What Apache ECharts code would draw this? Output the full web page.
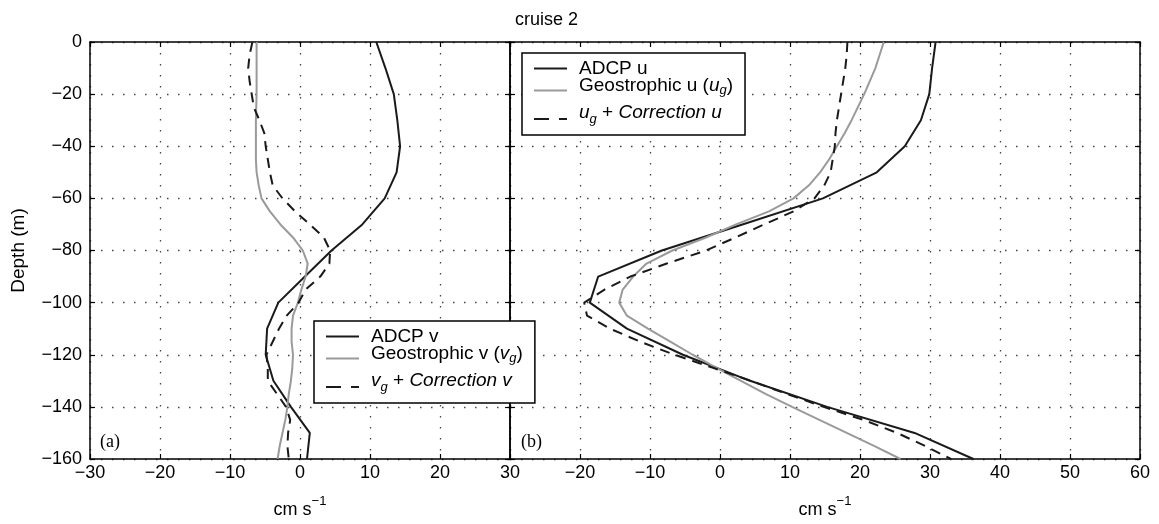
<!DOCTYPE html>
<html>
<head>
<meta charset="utf-8">
<script src="https://cdn.jsdelivr.net/npm/echarts@6/dist/echarts.min.js"></script>
<style>
  html, body { margin: 0; padding: 0; background: #fff; }
  #chart { width: 1159px; height: 524px; }
</style>
</head>
<body>
<div id="chart"></div>
<script>
// depth levels (m)
var depth10 = [0, -10, -20, -30, -40, -50, -60, -70, -80, -90, -100, -110, -120, -130, -140, -150, -160];
var depth5 = [0, -5, -10, -15, -20, -25, -30, -35, -40, -45, -50, -55, -60, -65, -70, -75, -80,
  -85, -90, -95, -100, -105, -110, -115, -120, -125, -130, -135, -140, -145, -150, -155, -160];

// panel (a): v component, cm/s
var adcpV = [10.9, 12.2, 13.4, 13.9, 14.3, 13.8, 12.1, 8.9, 4.5, 0.7, -3.1, -4.7, -4.9, -3.8, -1.3, 1.4, 1.0];
var geoV = [-6.2, -6.2, -6.2, -6.2, -6.2, -6.25, -6.3, -6.3, -6.3, -6.3, -6.2, -5.9, -5.5, -4.3, -2.8, -1.0, 0.4,
  1.1, 0.8, 0.2, -0.3, -1.0, -1.2, -1.2, -1.0, -1.1, -1.3, -1.6, -1.8, -2.1, -2.5, -2.9, -3.2];
var corrV = [-6.8, -7.2, -7.4, -7.2, -6.9, -6.6, -5.8, -5.1, -4.9, -4.6, -4.3, -3.9, -2.5, -0.7, 1.4, 3.4, 4.3,
  4.2, 2.9, 0.8, -0.2, -1.9, -3.0, -3.9, -4.8, -4.6, -4.6, -3.3, -2.0, -1.4, -1.7, -1.8, -1.6];

// panel (b): u component, cm/s
var adcpU = [30.8, 30.3, 29.9, 28.7, 26.4, 22.4, 14.7, 3.2, -8.3, -17.4, -18.6, -13.3, -5.3, 4.3, 15.3, 27.8, 36.2];
var geoU = [23.4, 22.8, 22.2, 21.4, 20.6, 19.7, 18.8, 17.8, 16.7, 15.6, 14.3, 12.7, 10.5, 7.0, 2.3, -2.0, -6.8,
  -10.5, -12.4, -13.9, -14.4, -13.3, -10.3, -7.1, -3.9, -0.5, 3.0, 6.5, 10.3, 14.2, 18.1, 22.0, 25.8];
var corrU = [18.2, 18.1, 17.9, 17.6, 17.3, 17.0, 16.7, 16.5, 16.4, 16.1, 15.8, 14.9, 13.5, 10.5, 6.3, 2.2, -2.0,
  -7.6, -12.8, -16.5, -19.4, -19.0, -15.7, -11.4, -6.5, -1.0, 4.4, 9.5, 14.8, 20.5, 25.3, 29.3, 33.0];

var FONT = 'Liberation Sans';

function pairs(vals, depths) {
  return depths.map(function (d, i) { return [vals[i], d]; });
}
function minusFmt(v) {
  return v < 0 ? '\u2212' + Math.abs(v) : String(v);
}

// legend labels with italic / subscript pieces (row styles keep MATLAB-like spacing)
var legendText = {
  'ADCP v': '{a|ADCP v}',
  'Geostrophic v': '{b|Geostrophic v (}{bi|v}{bs|g}{bn|)}',
  'corr v': '{ci|v}{cs|g}{cn| + }{cj|Correction v}',
  'ADCP u': '{a|ADCP u}',
  'Geostrophic u': '{b|Geostrophic u (}{bi|u}{bs|g}{bn|)}',
  'corr u': '{ci|u}{cs|g}{cn| + }{cj|Correction u}'
};
function tok(size, italic, pad) {
  return { fontFamily: FONT, fontSize: size, lineHeight: size < 15 ? 12 : 18, color: '#000',
    fontStyle: italic ? 'italic' : 'normal', padding: pad };
}
var legendRich = {
  a: tok(19, false, [0, 0, 0, 7]),
  b: tok(19, false, [0, 0, 10, 7]),
  bn: tok(19, false, [0, 0, 10, 0]),
  bi: tok(19, true, [0, 0, 10, 0]),
  bs: tok(13, true, [0, 0, 0, 0]),
  ci: tok(19, true, [0, 0, 13, 7]),
  cn: tok(19, false, [0, 0, 13, 0]),
  cj: tok(19, true, [0, 0, 13, 0]),
  cs: tok(13, true, [0, 0, 0, 0])
};

function makeLegend(names, left, top) {
  return {
    data: [
      { name: names[0] },
      { name: names[1] },
      { name: names[2], lineStyle: { type: [15, 10] } }
    ],
    orient: 'vertical',
    left: left,
    top: top,
    backgroundColor: '#fff',
    borderColor: '#000',
    borderWidth: 1.5,
    borderRadius: 0,
    padding: [6, 12, 0, 11],
    itemGap: -2,
    itemWidth: 33,
    itemHeight: 14,
    itemStyle: { opacity: 0 },
    selectedMode: false,
    formatter: function (name) { return legendText[name]; },
    textStyle: { rich: legendRich }
  };
}

var dotted = { color: '#444', width: 1.3, type: [1.5, 9.5] };
var boxLine = { show: true, onZero: false, lineStyle: { color: '#000', width: 1.5 } };
var tickIn = { show: true, inside: true, length: 5, lineStyle: { color: '#000', width: 1.2 } };
var tickLabel = { fontFamily: FONT, fontSize: 18, color: '#000', formatter: minusFmt };
var unitName = '{n|cm s}{sup|\u22121}';
var unitStyle = {
  rich: {
    n: { fontFamily: FONT, fontSize: 18, lineHeight: 18, verticalAlign: 'top', color: '#000', padding: [6, 0, 0, 0] },
    sup: { fontFamily: FONT, fontSize: 13, lineHeight: 13, verticalAlign: 'top', color: '#000' }
  }
};

function xPair(grid, min, max, hideMin) {
  return [
    {
      gridIndex: grid, type: 'value', min: min, max: max, interval: 10, position: 'bottom',
      axisLine: boxLine, axisTick: tickIn,
      axisLabel: Object.assign({ margin: 5, showMinLabel: !hideMin }, tickLabel),
      splitLine: { show: true, lineStyle: dotted },
      name: unitName, nameLocation: 'middle', nameGap: 36, nameTextStyle: unitStyle
    },
    {
      gridIndex: grid, type: 'value', min: min, max: max, interval: 10, position: 'top',
      axisLine: boxLine, axisTick: tickIn, axisLabel: { show: false }, splitLine: { show: false }
    }
  ];
}
function yPair(grid, withLabels) {
  var left = {
    gridIndex: grid, type: 'value', min: -160, max: 0, interval: 20, position: 'left',
    axisLine: boxLine, axisTick: tickIn,
    axisLabel: withLabels ? Object.assign({ margin: 8 }, tickLabel) : { show: false },
    splitLine: { show: true, lineStyle: dotted }
  };
  if (withLabels) {
    left.name = 'Depth (m)';
    left.nameLocation = 'middle';
    left.nameGap = 62;
    left.nameTextStyle = { fontFamily: FONT, fontSize: 19, color: '#000' };
  }
  return [left, {
    gridIndex: grid, type: 'value', min: -160, max: 0, interval: 20, position: 'right',
    axisLine: boxLine, axisTick: tickIn, axisLabel: { show: false }, splitLine: { show: false }
  }];
}

function profile(name, xi, yi, data, color, dash) {
  return {
    name: name, type: 'line', xAxisIndex: xi, yAxisIndex: yi,
    data: data, symbol: 'none', smooth: false, animation: false,
    lineStyle: { color: color, width: 2, type: dash || 'solid' },
    itemStyle: { color: color }
  };
}

var chart = echarts.init(document.getElementById('chart'), null, { renderer: 'canvas' });
chart.setOption({
  animation: false,
  backgroundColor: '#fff',
  title: {
    text: 'cruise 2', left: 510, top: 6,
    textStyle: { fontFamily: FONT, fontSize: 18, fontWeight: 'normal', color: '#000' }
  },
  grid: [
    { left: 90, top: 42, width: 420, height: 420, show: false },
    { left: 510, top: 42, width: 630, height: 420, show: false }
  ],
  xAxis: xPair(0, -30, 30, false).concat(xPair(1, -30, 60, true)),
  yAxis: yPair(0, true).concat(yPair(1, false)),
  legend: [
    makeLegend(['ADCP v', 'Geostrophic v', 'corr v'], 314, 321),
    makeLegend(['ADCP u', 'Geostrophic u', 'corr u'], 522, 53)
  ],
  graphic: [
    { type: 'text', left: 100, top: 433, z: 10, style: { text: '(a)', font: '18px "Liberation Serif"', fill: '#000' } },
    { type: 'text', left: 521, top: 433, z: 10, style: { text: '(b)', font: '18px "Liberation Serif"', fill: '#000' } }
  ],
  series: [
    profile('ADCP v', 0, 0, pairs(adcpV, depth10), '#1a1a1a'),
    profile('Geostrophic v', 0, 0, pairs(geoV, depth5), '#9a9a9a'),
    profile('corr v', 0, 0, pairs(corrV, depth5), '#1a1a1a', [10, 7]),
    profile('ADCP u', 2, 2, pairs(adcpU, depth10), '#1a1a1a'),
    profile('Geostrophic u', 2, 2, pairs(geoU, depth5), '#9a9a9a'),
    profile('corr u', 2, 2, pairs(corrU, depth5), '#1a1a1a', [10, 7])
  ]
});
</script>
</body>
</html>
